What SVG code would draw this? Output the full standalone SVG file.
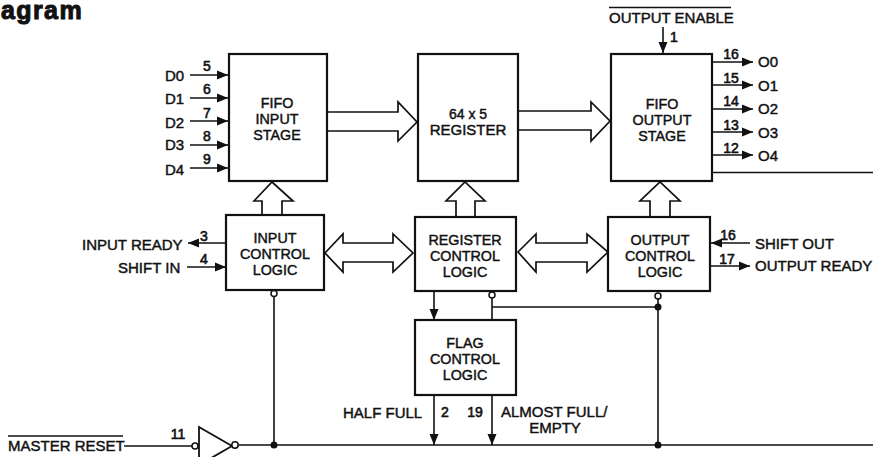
<svg xmlns="http://www.w3.org/2000/svg" width="873" height="457" viewBox="0 0 873 457">
<style>
text{font-family:"Liberation Sans",Arial,sans-serif;font-size:15px;fill:#111;stroke:#111;stroke-width:.45px}
.c{text-anchor:middle}
.i{font-size:14.300px;text-anchor:middle}
.p{font-size:14px;stroke-width:.6px;text-anchor:middle}
.box{fill:#fff;stroke:#111;stroke-width:2.200}
.w{fill:#fff;stroke:#111;stroke-width:1.700;stroke-linejoin:miter}
.l{fill:none;stroke:#111;stroke-width:1.600}
.a{fill:none;stroke:#111;stroke-width:1.600;marker-end:url(#h)}
.b{fill:#fff;stroke:#111;stroke-width:1.500}
.d{fill:#111;stroke:none}
</style>
<defs>
<marker id="h" markerUnits="userSpaceOnUse" markerWidth="12" markerHeight="10" refX="11" refY="5" orient="auto"><path d="M0 .5L11 5L0 9.500z" fill="#111"/></marker>
</defs>
<rect width="873" height="457" fill="#fff"/>
<text x="1" y="19" style="font-size:25px;font-weight:bold;stroke-width:1px;letter-spacing:1.400px">agram</text>

<g id="connectors">
<path class="a" d="M190 75H228"/><path class="a" d="M190 98H228"/><path class="a" d="M190 121H228"/><path class="a" d="M190 145H228"/><path class="a" d="M190 168H228"/>
<path class="a" d="M712 62H753"/><path class="a" d="M712 85H753"/><path class="a" d="M712 109H753"/><path class="a" d="M712 132H753"/><path class="a" d="M712 155H753"/>
<path class="l" d="M712 172.500H873"/>
<path class="a" d="M663 27V53"/>
<path class="a" d="M226 243H188"/><path class="a" d="M187 267H226"/>
<path class="a" d="M750 243H711"/><path class="a" d="M710 266H750"/>
<path class="a" d="M434 291V320"/>
<path class="a" d="M434 395V445"/><path class="a" d="M492 395V445"/>
<path class="l" d="M492 298V320M492 307H658M658 299V445M274 296V445M124 446H192M238 445H873"/>
<path class="w" d="M327 112H398V102L417 122L398 141V131H327z"/>
<path class="w" d="M518 111H591V102L610 121L591 141V130H518z"/>
<path class="w" d="M262 215V201H254L272 182L293 201H282V215"/>
<path class="w" d="M456 216V201H446L465 182L485 201H475V216"/>
<path class="w" d="M650 217V201H640L660 182L680 201H670V217"/>
<path class="w" d="M325 253L343 234V243H393V234L413 253L393 272V262H343V272z"/>
<path class="w" d="M518 252L536 234V243H587V234L608 252L587 272V262H536V272z"/>
<circle class="d" cx="274" cy="445" r="3.500"/><circle class="d" cx="658" cy="307" r="3.500"/><circle class="d" cx="658" cy="445" r="3.500"/>
</g>

<g id="fifo-input"><rect class="box" x="229" y="54" width="98" height="127"/><text class="i" x="277" y="108">FIFO</text><text class="i" x="277" y="124">INPUT</text><text class="i" x="277" y="140">STAGE</text></g>
<g id="register"><rect class="box" x="418" y="54" width="100" height="127"/><text class="c" x="468" y="119" style="font-size:14px">64 x 5</text><text class="c" x="468" y="135">REGISTER</text></g>
<g id="fifo-output"><rect class="box" x="611" y="54" width="101" height="127"/><text class="i" x="662" y="109">FIFO</text><text class="i" x="662" y="125">OUTPUT</text><text class="i" x="662" y="141">STAGE</text></g>
<g id="input-control"><rect class="box" x="226" y="215" width="98" height="75"/><text class="i" x="275" y="243">INPUT</text><text class="i" x="275" y="259">CONTROL</text><text class="i" x="275" y="275">LOGIC</text></g>
<g id="register-control"><rect class="box" x="415" y="217" width="101" height="74"/><text class="i" x="465" y="245">REGISTER</text><text class="i" x="465" y="261">CONTROL</text><text class="i" x="465" y="277">LOGIC</text></g>
<g id="output-control"><rect class="box" x="608" y="217" width="102" height="74"/><text class="i" x="660" y="245">OUTPUT</text><text class="i" x="660" y="261">CONTROL</text><text class="i" x="660" y="277">LOGIC</text></g>
<g id="flag-control"><rect class="box" x="415" y="320" width="101" height="75"/><text class="i" x="465" y="348">FLAG</text><text class="i" x="465" y="364">CONTROL</text><text class="i" x="465" y="380">LOGIC</text></g>
<g id="inverter"><path d="M199 427L232 446L199 465z" fill="#fff" stroke="#111" stroke-width="1.800"/><circle class="b" cx="195" cy="446" r="3"/><circle class="b" cx="235" cy="445" r="3.200"/></g>
<g id="bubbles"><circle class="b" cx="274" cy="293.500" r="3"/><circle class="b" cx="492" cy="295" r="3"/><circle class="b" cx="658" cy="296" r="3"/></g>

<g id="labels">
<text x="165" y="81">D0</text><text x="165" y="104">D1</text><text x="165" y="128">D2</text><text x="165" y="150">D3</text><text x="165" y="175">D4</text>
<text class="p" x="207" y="71">5</text><text class="p" x="207" y="94">6</text><text class="p" x="207" y="118">7</text><text class="p" x="207" y="141">8</text><text class="p" x="207" y="164">9</text>
<text x="758" y="67">O0</text><text x="758" y="91">O1</text><text x="758" y="114">O2</text><text x="758" y="138">O3</text><text x="758" y="161">O4</text>
<text class="p" x="731" y="59">16</text><text class="p" x="731" y="83">15</text><text class="p" x="731" y="106">14</text><text class="p" x="731" y="130">13</text><text class="p" x="731" y="153">12</text>
<text x="609" y="23">OUTPUT ENABLE</text><path class="l" d="M609 7.500H731"/>
<text class="p" x="674" y="42">1</text>
<text x="82" y="250">INPUT READY</text><text x="118" y="273">SHIFT IN</text>
<text class="p" x="204" y="241">3</text><text class="p" x="204" y="264">4</text>
<text x="755" y="249">SHIFT OUT</text><text x="755" y="271">OUTPUT READY</text>
<text class="p" x="728" y="240">16</text><text class="p" x="727" y="264">17</text>
<text x="8" y="451">MASTER RESET</text><path class="l" d="M8 436H123"/>
<text class="p" x="178" y="439">11</text>
<text x="343" y="418">HALF FULL</text>
<text class="p" x="445" y="417">2</text><text class="p" x="475" y="417">19</text>
<text x="501" y="417">ALMOST FULL/</text><text class="c" x="555" y="433">EMPTY</text>
</g>
</svg>
